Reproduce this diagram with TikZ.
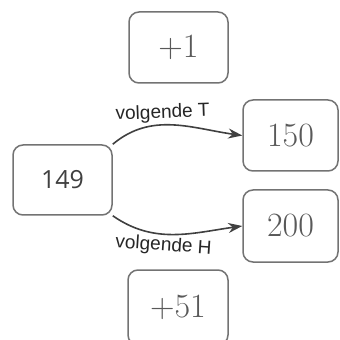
\documentclass[tikz,border=0pt]{standalone}
\usepackage{fontspec}
\setsansfont{Open Sans}
\newfontfamily\labfont{Liberation Sans}
\usetikzlibrary{arrows.meta}

\begin{document}
\begin{tikzpicture}[x=0.5pt,y=-0.5pt,
  box/.style={draw=black!55, line width=0.75pt, rounded corners=5pt},
  hand/.style={text=black!65, font=\fontsize{17}{18}\selectfont},
  link/.style={draw=black!75, line width=0.8pt, -{Stealth[length=7pt,width=5pt]}},
  lab/.style={font=\labfont\fontsize{9.5}{10}\selectfont, text=black!85, inner sep=1pt}]
\useasboundingbox (0,0) rectangle (340,340);
% boxes
\node[box, minimum width=49.5pt, minimum height=35.5pt, hand] (plus1) at (178.5,47.5) {+1};
\node[box, minimum width=49.5pt, minimum height=35pt, font=\sffamily\fontsize{12.5}{13}\selectfont, text=black!75] (start) at (62.5,180) {149};
\node[box, minimum width=47.5pt, minimum height=35.5pt, hand] (volgT) at (290.5,135.5) {150};
\node[box, minimum width=47.5pt, minimum height=36pt, hand] (volgH) at (290.5,226) {200};
\node[box, minimum width=50pt, minimum height=37.5pt, hand] (plus51) at (178,307.5) {+51};
% arrows
\draw[link] (start.north east) to[out=40, in=172] node[lab, pos=0.42, above, sloped] {volgende T} (volgT.west);
\draw[link] (start.south east) to[out=-35, in=188] node[lab, pos=0.42, below, sloped] {volgende H} (volgH.west);
\end{tikzpicture}
\end{document}
